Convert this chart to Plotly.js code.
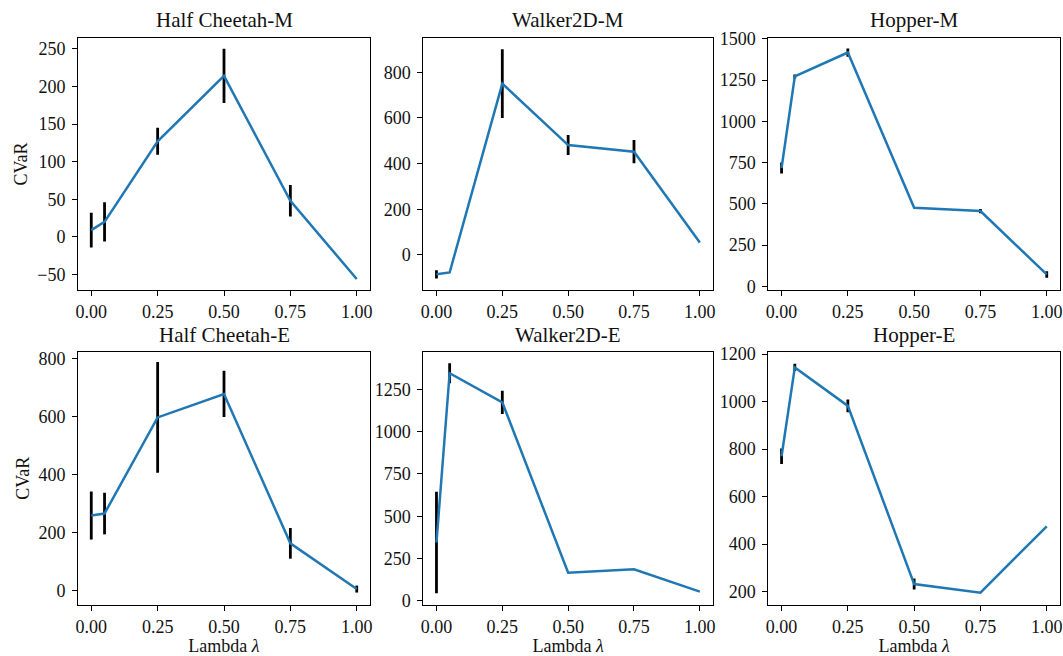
<!DOCTYPE html>
<html>
<head>
<meta charset="utf-8">
<script src="https://cdn.plot.ly/plotly-3.0.1.min.js"></script>
<style>html,body{margin:0;padding:0;background:#fff;}#chart{width:1063px;height:656px;}</style>
</head>
<body>
<div id="chart"></div>
<script>
// Data
const lambdas = [0, 0.05, 0.25, 0.5, 0.75, 1.0];
const titles = ["Half Cheetah-M", "Walker2D-M", "Hopper-M", "Half Cheetah-E", "Walker2D-E", "Hopper-E"];
const xTickVals = [0, 0.25, 0.5, 0.75, 1.0];
const xTickText = ["0.00", "0.25", "0.50", "0.75", "1.00"];

const halfCheetahM = [9, 20, 127, 214, 48, -56];
const halfCheetahMErr = [23, 26, 18, 36, 21, 0];
const walkerM = [-85, -77, 750, 481, 452, 54];
const walkerMErr = [18, 0, 150, 44, 51, 0];
const hopperM = [717, 1272, 1417, 476, 456, 72];
const hopperMErr = [33, 12, 25, 0, 13, 20];
const halfCheetahE = [258, 265, 597, 678, 162, 4];
const halfCheetahEErr = [83, 72, 191, 80, 53, 12];
const walkerE = [345, 1345, 1173, 167, 187, 55];
const walkerEErr = [300, 59, 69, 0, 0, 0];
const hopperE = [770, 1144, 982, 232, 196, 475];
const hopperEErr = [33, 15, 27, 23, 0, 0];

const series = [halfCheetahM, walkerM, hopperM, halfCheetahE, walkerE, hopperE];
const errors = [halfCheetahMErr, walkerMErr, hopperMErr, halfCheetahEErr, walkerEErr, hopperEErr];
const yRanges = [[-71, 265], [-155, 952], [-24, 1508], [-51, 824], [-24, 1472], [144, 1210]];
const yDticks = [50, 200, 250, 200, 250, 200];

const W = 1063, H = 656;
const colPx = [[78, 370], [423.3, 713], [768.3, 1060]];
const rowPx = [[37.5, 290.3], [351.7, 605]];

const FONT = "'Liberation Serif', 'Times New Roman', serif";
const TXT = "#111";
const traces = [];
const layout = {
  width: W, height: H,
  margin: {l: 0, r: 0, t: 0, b: 0},
  paper_bgcolor: "#fff", plot_bgcolor: "#fff",
  showlegend: false,
  font: {family: FONT, size: 18, color: TXT},
  annotations: []
};

for (let i = 0; i < 6; i++) {
  const r = Math.floor(i / 3), c = i % 3;
  const n = i + 1;
  const xa = n === 1 ? "x" : "x" + n;
  const ya = n === 1 ? "y" : "y" + n;
  traces.push({
    x: lambdas, y: series[i], type: "scatter", mode: "lines",
    xaxis: xa, yaxis: ya,
    line: {color: "#1f77b4", width: 2.5},
    error_y: {type: "data", array: errors[i], visible: true, color: "#000", thickness: 2.8, width: 0},
    hoverinfo: "x+y"
  });
  const xd = [colPx[c][0] / W, colPx[c][1] / W];
  const yd = [1 - rowPx[r][1] / H, 1 - rowPx[r][0] / H];
  const xaxis = {
    domain: xd, anchor: ya, range: [-0.05, 1.05],
    tickvals: xTickVals, ticktext: xTickText,
    showgrid: false, zeroline: false,
    showline: true, linecolor: "#000", linewidth: 1, mirror: true,
    ticks: "outside", ticklen: 5, tickwidth: 1, tickcolor: "#000",
    tickfont: {family: FONT, size: 18, color: TXT}
  };
  if (r === 1) {
    xaxis.title = {text: "Lambda <i>λ</i>", font: {family: FONT, size: 18, color: TXT}, standoff: 2};
  }
  const yaxis = {
    domain: yd, anchor: xa, range: yRanges[i], dtick: yDticks[i], tick0: 0,
    showgrid: false, zeroline: false,
    showline: true, linecolor: "#000", linewidth: 1, mirror: true,
    ticks: "outside", ticklen: 5, tickwidth: 1, tickcolor: "#000",
    ticklabelstandoff: 3,
    tickfont: {family: FONT, size: 18, color: TXT}
  };
  if (c === 0) {
    yaxis.title = {text: "CVaR", font: {family: FONT, size: 18, color: TXT}, standoff: 4};
  }
  layout["xaxis" + (n === 1 ? "" : n)] = xaxis;
  layout["yaxis" + (n === 1 ? "" : n)] = yaxis;
  layout.annotations.push({
    text: titles[i], xref: "paper", yref: "paper",
    x: (xd[0] + xd[1]) / 2, y: yd[1], xanchor: "center", yanchor: "bottom",
    yshift: 3, showarrow: false,
    font: {family: FONT, size: 21, color: TXT}
  });
}

Plotly.newPlot("chart", traces, layout, {displayModeBar: false, staticPlot: true});
</script>
</body>
</html>
